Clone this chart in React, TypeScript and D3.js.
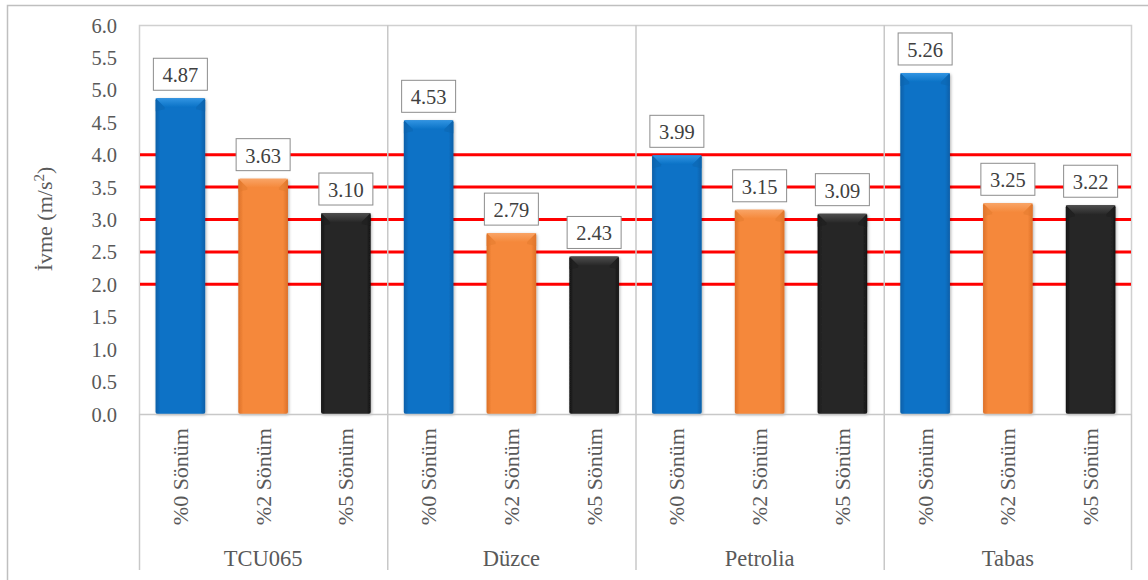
import React from "react";
import * as d3 from "d3";

// Earthquake records and damping ratios
const records = ["TCU065", "Düzce", "Petrolia", "Tabas"];
const dampings = ["%0 Sönüm", "%2 Sönüm", "%5 Sönüm"];

// Peak acceleration (m/s²) per record, one array per damping ratio
const damping0 = [4.87, 4.53, 3.99, 5.26];
const damping2 = [3.63, 2.79, 3.15, 3.25];
const damping5 = [3.1, 2.43, 3.09, 3.22];

const yTicks = [0, 0.5, 1, 1.5, 2, 2.5, 3, 3.5, 4, 4.5, 5, 5.5, 6];
const redLines = [2, 2.5, 3, 3.5, 4];

const seriesValues = [damping0, damping2, damping5];

const palette = [
  { body: "#0A72C6", light: "#3194E2", dark: "#075FA8", edge: "#0B64AE" },
  { body: "#F5883A", light: "#F9A466", dark: "#DC7028", edge: "#E27A2E" },
  { body: "#282828", light: "#4E4E4E", dark: "#151515", edge: "#1C1C1C" },
];

const W = 1148;
const H = 580;
const plot = { left: 139, right: 1132, top: 25, bottom: 414 };
const FONT = '"Liberation Serif"';
const TEXT = "#595959";

export default function App() {
  const x0 = d3
    .scaleBand<string>()
    .domain(records)
    .range([plot.left, plot.right])
    .padding(0);
  const x1 = d3
    .scaleBand<string>()
    .domain(dampings)
    .range([0, x0.bandwidth()])
    .paddingInner(0.4)
    .paddingOuter(0.2);
  const y = d3.scaleLinear().domain([0, 6]).range([plot.bottom, plot.top]);

  const bevel = 9;
  const txt = { fontFamily: FONT };

  return (
    <svg
      width={W}
      height={H}
      style={{ position: "absolute", left: 0, top: 0, background: "#fff" }}
    >
      <defs>
        {palette.map((c, i) => (
          <linearGradient key={i} id={`body${i}`} x1="0" x2="1" y1="0" y2="0">
            <stop offset="0" stopColor={c.dark} />
            <stop offset="0.1" stopColor={c.body} />
            <stop offset="0.9" stopColor={c.body} />
            <stop offset="1" stopColor={c.dark} />
          </linearGradient>
        ))}
        {palette.map((c, i) => (
          <linearGradient key={`b${i}`} id={`bevel${i}`} x1="0" x2="0" y1="0" y2="1">
            <stop offset="0" stopColor={c.light} />
            <stop offset="1" stopColor={c.body} />
          </linearGradient>
        ))}
        <filter id="shadow" x="-20%" y="-5%" width="140%" height="110%">
          <feDropShadow dx="1" dy="1" stdDeviation="1.5" floodColor="#000" floodOpacity="0.3" />
        </filter>
      </defs>

      {/* outer frame */}
      <path d={`M7.5,${H} V5.5 H${W}`} fill="none" stroke="#BFBFBF" strokeWidth={1.5} />

      {/* plot frame */}
      <path
        d={`M${plot.left + 0.5},${plot.bottom} V${plot.top + 0.5} H${plot.right - 0.5} V${plot.bottom}`}
        fill="none"
        stroke="#D0D0D0"
        strokeWidth={1.5}
      />

      {/* red reference lines */}
      {redLines.map((v) => (
        <line
          key={v}
          x1={plot.left + 1}
          x2={plot.right - 1}
          y1={y(v)}
          y2={y(v)}
          stroke="#FF0000"
          strokeWidth={3}
        />
      ))}

      {/* group separators running down through the category labels */}
      {records.map((r, i) => (
        <line
          key={r}
          x1={x0(r)! + 0.5}
          x2={x0(r)! + 0.5}
          y1={i === 0 ? plot.bottom : plot.top}
          y2={570}
          stroke="#C8C8C8"
          strokeWidth={1.5}
        />
      ))}
      <line x1={plot.right - 0.5} x2={plot.right - 0.5} y1={plot.bottom} y2={570} stroke="#C8C8C8" strokeWidth={1.5} />

      {/* bars */}
      {records.map((r, gi) =>
        dampings.map((d, si) => {
          const v = seriesValues[si][gi];
          const bx = x0(r)! + x1(d)!;
          const bw = x1.bandwidth();
          const top = y(v);
          const h = y(0) - top;
          const c = palette[si];
          return (
            <g key={`${r}-${d}`}>
              <g filter="url(#shadow)">
                <rect x={bx} y={top} width={bw} height={h} rx={2} fill={`url(#body${si})`} />
              </g>
              <polygon
                points={`${bx},${top} ${bx + bw},${top} ${bx + bw - bevel},${top + bevel} ${bx + bevel},${top + bevel}`}
                fill={`url(#bevel${si})`}
              />
              <polygon
                points={`${bx},${top} ${bx + bevel},${top + bevel} ${bx + bevel},${top + bevel + 2} ${bx},${top + bevel + 4}`}
                fill={c.edge}
                opacity={0.5}
              />
              <polygon
                points={`${bx + bw},${top} ${bx + bw - bevel},${top + bevel} ${bx + bw - bevel},${top + bevel + 2} ${bx + bw},${top + bevel + 4}`}
                fill={c.edge}
                opacity={0.5}
              />
              {/* value label */}
              <rect
                x={bx + bw / 2 - 27}
                y={top - 40}
                width={54}
                height={32}
                fill="#fff"
                stroke="#8C8C8C"
                strokeWidth={1}
              />
              <text
                x={bx + bw / 2}
                y={top - 16}
                textAnchor="middle"
                fontSize={20.5}
                fill="#404040"
                style={txt}
              >
                {v.toFixed(2)}
              </text>
              {/* damping label */}
              <text
                transform={`translate(${bx + bw / 2 + 7.5},428) rotate(-90)`}
                textAnchor="end"
                fontSize={22}
                fill={TEXT}
                style={txt}
              >
                {d}
              </text>
            </g>
          );
        })
      )}

      {/* base line */}
      <line x1={plot.left} x2={plot.right} y1={plot.bottom + 0.5} y2={plot.bottom + 0.5} stroke="#C8C8C8" strokeWidth={1.5} />

      {/* record labels */}
      {records.map((r) => (
        <text
          key={r}
          x={x0(r)! + x0.bandwidth() / 2}
          y={566}
          textAnchor="middle"
          fontSize={22.5}
          fill={TEXT}
          style={txt}
        >
          {r}
        </text>
      ))}

      {/* y axis ticks */}
      {yTicks.map((t) => (
        <text key={t} x={117} y={y(t) + 7.5} textAnchor="end" fontSize={20.5} fill={TEXT} style={txt}>
          {t.toFixed(1)}
        </text>
      ))}

      {/* y axis title */}
      <text transform="translate(52,219) rotate(-90)" textAnchor="middle" fontSize={22} fill={TEXT} style={txt}>
        İvme (m/s
        <tspan dy={-8} fontSize={15}>2</tspan>
        <tspan dy={8}>)</tspan>
      </text>
    </svg>
  );
}
